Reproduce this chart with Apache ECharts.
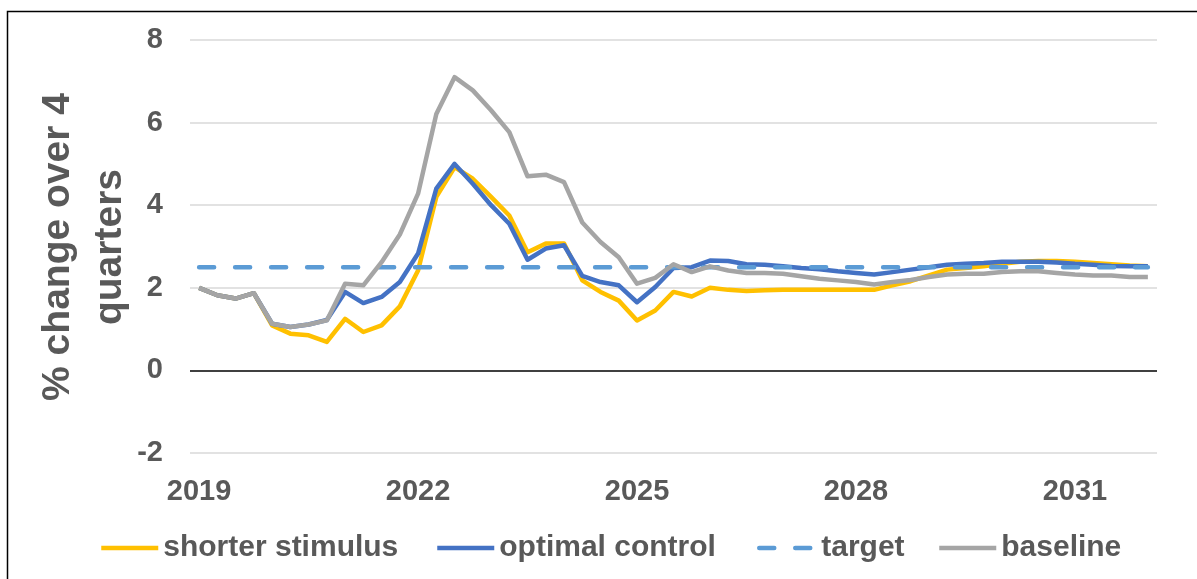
<!DOCTYPE html>
<html>
<head>
<meta charset="utf-8">
<script src="https://cdn.jsdelivr.net/npm/echarts@6/dist/echarts.min.js"></script>
<style>
  html, body { margin: 0; padding: 0; background: #fff; }
  #chart { width: 1197px; height: 579px; }
</style>
</head>
<body>
<div id="chart"></div>
<script>
// quarters 2019Q1 .. 2032Q1
const quarters = [];
for (let y = 2019; y <= 2032; y++) {
  for (let q = 1; q <= 4; q++) {
    if (y === 2032 && q > 1) break;
    quarters.push(y + 'Q' + q);
  }
}

const shorterStimulus = [2.00, 1.82, 1.74, 1.87, 1.09, 0.89, 0.85, 0.69, 1.25, 0.93, 1.09, 1.55, 2.42,
  4.20, 4.92, 4.64, 4.20, 3.75, 2.86, 3.07, 3.07, 2.18, 1.90, 1.69, 1.21, 1.45, 1.90, 1.79, 2.00,
  1.95, 1.92, 1.94, 1.95, 1.95, 1.95, 1.95, 1.95, 1.95, 2.06, 2.16, 2.30, 2.44, 2.48, 2.52, 2.58,
  2.63, 2.65, 2.65, 2.63, 2.60, 2.57, 2.54, 2.52];

const optimalControl = [2.00, 1.82, 1.74, 1.87, 1.13, 1.05, 1.11, 1.22, 1.90, 1.63, 1.78, 2.14, 2.83,
  4.40, 5.00, 4.52, 4.00, 3.55, 2.68, 2.95, 3.03, 2.29, 2.14, 2.06, 1.65, 2.02, 2.48, 2.50, 2.66,
  2.65, 2.57, 2.56, 2.52, 2.48, 2.45, 2.40, 2.36, 2.32, 2.38, 2.44, 2.50, 2.56, 2.58, 2.60, 2.63,
  2.63, 2.63, 2.61, 2.58, 2.56, 2.53, 2.52, 2.52];

const target = quarters.map(() => 2.5);

const baseline = [2.00, 1.82, 1.74, 1.87, 1.13, 1.05, 1.11, 1.21, 2.10, 2.06, 2.62, 3.29, 4.28,
  6.21, 7.10, 6.78, 6.30, 5.77, 4.70, 4.74, 4.56, 3.58, 3.11, 2.74, 2.10, 2.24, 2.57, 2.38, 2.52,
  2.42, 2.36, 2.36, 2.34, 2.28, 2.22, 2.18, 2.14, 2.08, 2.14, 2.19, 2.26, 2.32, 2.34, 2.34, 2.38,
  2.40, 2.40, 2.36, 2.32, 2.30, 2.30, 2.26, 2.26];

const yTicks = [-2, 0, 2, 4, 6, 8];

const font = 'Liberation Sans, Arial, sans-serif';
const grey = '#595959';

function lineSeries(name, data, color, dashed) {
  return {
    name: name,
    type: 'line',
    data: data,
    symbol: 'none',
    showSymbol: false,
    lineStyle: {
      color: color,
      width: 4.5,
      type: dashed ? [15, 21] : 'solid',
      cap: dashed ? 'round' : 'butt',
      join: 'round'
    },
    itemStyle: { color: color },
    emphasis: { disabled: true }
  };
}

function legendAt(name, left) {
  return {
    data: [name],
    left: left,
    top: 528,
    itemWidth: 57,
    itemHeight: 14,
    itemStyle: { opacity: 0 },
    lineStyle: { width: 4.5 },
    textStyle: { fontFamily: font, fontSize: 30, fontWeight: 'bold', color: grey },
    selectedMode: false
  };
}

const chart = echarts.init(document.getElementById('chart'), null, { renderer: 'canvas' });
chart.setOption({
  animation: false,
  backgroundColor: '#fff',
  grid: { left: 190, right: 40, top: 40, bottom: 126, containLabel: false },
  legend: [
    legendAt('shorter stimulus', 94),
    legendAt('optimal control', 430),
    legendAt('target', 752),
    legendAt('baseline', 932)
  ],
  graphic: [
    {
      type: 'rect',
      shape: { x: 7.5, y: 11.5, width: 1300, height: 700 },
      style: { fill: 'none', stroke: '#000', lineWidth: 1.5 },
      silent: true
    },
    {
      type: 'text',
      x: 84,
      y: 247,
      rotation: Math.PI / 2,
      style: {
        text: '% change over 4\nquarters',
        fontFamily: font,
        fontSize: 39,
        fontWeight: 'bold',
        fill: grey,
        align: 'center',
        verticalAlign: 'middle',
        lineHeight: 52
      },
      silent: true
    }
  ],
  xAxis: {
    type: 'category',
    data: quarters,
    boundaryGap: true,
    axisLine: { show: false, onZero: false },
    axisTick: { show: false },
    splitLine: { show: false },
    axisLabel: {
      interval: 11,
      margin: 24,
      formatter: v => v.slice(0, 4),
      fontFamily: font,
      fontSize: 29,
      fontWeight: 'bold',
      color: grey
    }
  },
  yAxis: {
    type: 'value',
    min: yTicks[0],
    max: yTicks[yTicks.length - 1],
    interval: 2,
    axisLine: { show: false },
    axisTick: { show: false },
    axisLabel: {
      margin: 27,
      fontFamily: font,
      fontSize: 29,
      fontWeight: 'bold',
      color: grey
    },
    splitLine: {
      lineStyle: {
        color: yTicks.map(t => (t === 0 ? '#000000' : '#D9D9D9')),
        width: 1.5
      }
    }
  },
  series: [
    lineSeries('shorter stimulus', shorterStimulus, '#FFC000', false),
    lineSeries('optimal control', optimalControl, '#4472C4', false),
    lineSeries('target', target, '#5B9BD5', true),
    lineSeries('baseline', baseline, '#A5A5A5', false)
  ]
});
</script>
</body>
</html>
